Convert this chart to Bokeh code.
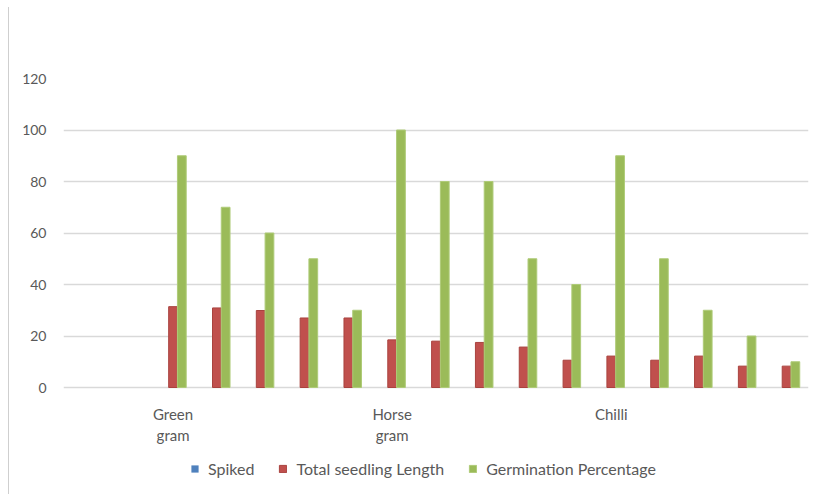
from bokeh.plotting import figure
from bokeh.models import FixedTicker, Legend, LegendItem
from bokeh.core.properties import value
from bokeh.embed import file_html
from bokeh.resources import INLINE

# Crop groups along the x axis (only some groups carry a label)
categories = ["", "", "Green gram", "", "", "", "", "Horse gram", "", "",
              "", "", "Chilli", "", "", "", ""]
spiked = [0, 0, 0, 0, 0, 0, 0, 0, 0, 0, 0, 0, 0, 0, 0, 0, 0]
seedling_length = [None, None, 31.4, 30.9, 29.9, 27.0, 27.0, 18.5, 18.0,
                   17.5, 15.7, 10.6, 12.2, 10.6, 12.2, 8.3, 8.3]
germination = [None, None, 90, 70, 60, 50, 30, 100, 80, 80, 50, 40, 90, 50,
               30, 20, 10]
y_ticks = [0, 20, 40, 60, 80, 100, 120]

FONT = "Lato"
TEXT = "#595959"
GRID = "#D9D9D9"

nan = float("nan")
def clean(vals):
    return [nan if v is None else v for v in vals]

idx = list(range(len(categories)))

# The drawing area runs down to the bottom edge so that the category
# labels and the legend can sit under the value axis baseline.
Y_TOP = 120
PX_PER_UNIT = 309 / Y_TOP
FRAME_H = 416
y_bottom = -(FRAME_H - 309) / PX_PER_UNIT

p = figure(
    frame_width=745, frame_height=FRAME_H,
    x_range=(-0.5, len(categories) - 0.5), y_range=(y_bottom, Y_TOP),
    x_axis_location=None,
    output_backend="svg", toolbar_location=None,
    min_border_left=63, min_border_right=9, min_border_top=78,
    min_border_bottom=0,
    background_fill_color="white", border_fill_color="white",
    outline_line_color=None,
)

# thin chart-area border line along the left edge
p.stylesheets = [
    ":host::after { content: ''; position: absolute; left: 8px; top: 7px; "
    "bottom: 0px; border-left: 1px solid #CFCFCF; z-index: 20; "
    "pointer-events: none; }"
]

bw = 0.2
r_sp = p.vbar(x=[i - bw for i in idx], top=spiked, width=bw,
              fill_color="#4F81BD", line_color=None)
r_sl = p.vbar(x=idx, top=clean(seedling_length), width=bw,
              fill_color="#C0504D", line_color="#A9433F", line_width=1)
r_gp = p.vbar(x=[i + bw for i in idx], top=clean(germination), width=bw,
              fill_color="#9BBB59", line_color="#AFCB78", line_width=1)

# value axis
p.yaxis.ticker = FixedTicker(ticks=y_ticks)
p.yaxis.axis_label = None
p.yaxis.axis_line_color = None
p.yaxis.major_tick_line_color = None
p.yaxis.minor_tick_line_color = None
p.yaxis.major_label_standoff = 11
p.yaxis.major_label_text_font = FONT
p.yaxis.major_label_text_font_size = "14px"
p.yaxis.major_label_text_color = TEXT

p.ygrid.ticker = FixedTicker(ticks=y_ticks)
p.ygrid.grid_line_color = GRID
p.ygrid.grid_line_width = 1.3
p.xgrid.grid_line_color = None

# category labels under the baseline, wrapped onto two lines
label_pos = [i for i, c in enumerate(categories) if c]
p.text(x=label_pos, y=[0] * len(label_pos),
       text=[categories[i].replace(" ", "\n") for i in label_pos],
       text_align="center", text_baseline="top", y_offset=17,
       text_font=value(FONT), text_font_size="15px", text_color=TEXT,
       text_line_height=1.2)

legend = Legend(
    items=[LegendItem(label="Spiked", renderers=[r_sp]),
           LegendItem(label="Total seedling Length", renderers=[r_sl]),
           LegendItem(label="Germination Percentage", renderers=[r_gp])],
    orientation="horizontal", location=(127, 16),
    border_line_color=None, background_fill_alpha=0,
    glyph_width=9, glyph_height=9, label_standoff=9, spacing=24,
    label_text_font=FONT, label_text_font_size="16px",
    label_text_color=TEXT, margin=0, padding=0,
)
p.add_layout(legend, "center")

open("out.html", "w").write(file_html(p, INLINE))
